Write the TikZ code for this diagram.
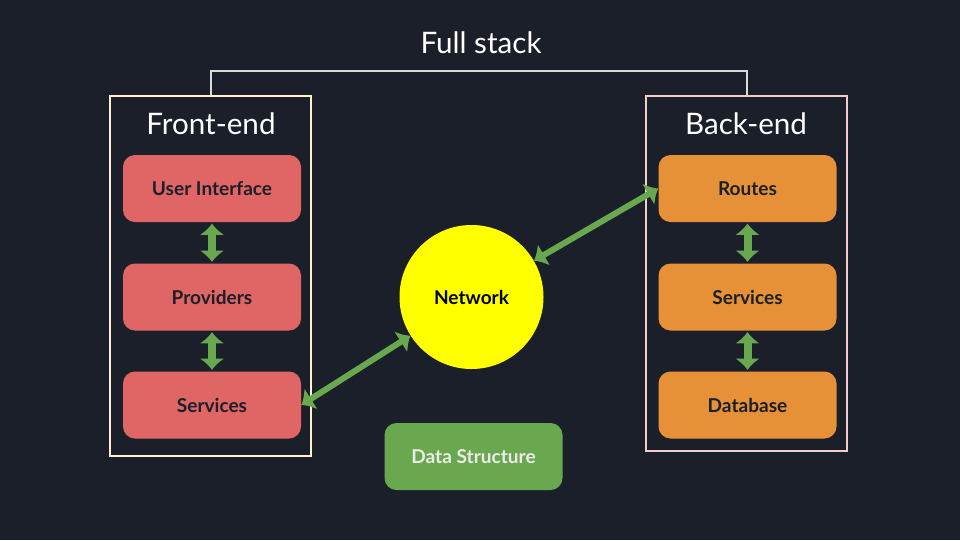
\documentclass[tikz,border=0pt]{standalone}
\usepackage{fontspec}
\setmainfont{Lato}
\usepackage{tikz}
\usetikzlibrary{arrows.meta}

\definecolor{bgdark}{HTML}{1B1F2A}
\definecolor{frontred}{HTML}{E06666}
\definecolor{backorange}{HTML}{E69138}
\definecolor{linkgreen}{HTML}{6AA84F}
\definecolor{netyellow}{RGB}{255,255,0}
\definecolor{frontline}{HTML}{FFF2CC}
\definecolor{backline}{HTML}{F4CCCC}
\definecolor{stackline}{HTML}{D9D9D9}

\begin{document}
\begin{tikzpicture}[
  x=0.75pt, y=-0.75pt,
  side/.style={draw, line width=1.5pt, minimum width=150.75pt, inner sep=0pt},
  title/.style={text=white, font=\fontsize{22.2}{26}\selectfont},
  part/.style={rounded corners=9pt, minimum width=133.5pt, minimum height=50.25pt,
    inner sep=0pt, text=bgdark, font=\fontsize{14.3}{17}\selectfont\bfseries},
  link/.style={draw=linkgreen, line width=6pt, shorten <=1pt, shorten >=1pt,
    {Latex[length=8.5pt,width=19pt]}-{Latex[length=8.5pt,width=19pt]}},
  netlink/.style={link, line width=4.5pt, shorten <=0pt, shorten >=0pt},
]
\fill[bgdark] (0,0) rectangle (960,540);
\useasboundingbox (0,0) rectangle (960,540);

% the two halves
\node[side, draw=frontline, minimum height=270pt] (front) at (210.5,276) {};
\node[side, draw=backline, minimum height=266.25pt] (back) at (746.5,273.5) {};
\node[title] (fronttitle) at (211,124) {Front-end};
\node[title] (backtitle) at (746,124) {Back-end};

\node[title] (stack) at (481,43) {Full stack};
\coordinate (stacktop) at (479,71);
\draw[stackline, line width=1.5pt] (front.north) |- (stacktop) -| (back.north);

% front-end parts
\node[part, fill=frontred] (ui) at (212,188.5) {User Interface};
\node[part, fill=frontred] (providers) at (212,297) {Providers};
\node[part, fill=frontred] (fservices) at (212,405) {Services};

% back-end parts
\node[part, fill=backorange] (routes) at (747.5,188.5) {Routes};
\node[part, fill=backorange] (bservices) at (747.5,297) {Services};
\node[part, fill=backorange] (database) at (747.5,405) {Database};

\node[circle, fill=netyellow, minimum size=108pt, inner sep=0pt, text=black,
  font=\fontsize{14.3}{17}\selectfont\bfseries] (network) at (471.5,297) {Network};

\node[part, fill=linkgreen, text=white!92!black] (data) at (473.5,456.5) {Data Structure};

\draw[link] (ui) -- (providers);
\draw[link] (providers) -- (fservices);
\draw[link] (routes) -- (bservices);
\draw[link] (bservices) -- (database);
\draw[netlink] (fservices.east) -- (network);
\draw[netlink] (routes.west) -- (network);

\end{tikzpicture}
\end{document}
